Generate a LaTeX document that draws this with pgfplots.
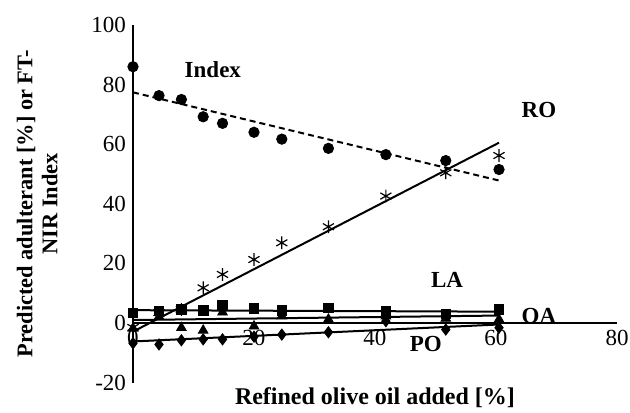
\documentclass[border=0pt]{standalone}
\usepackage{pgfplots}
\pgfplotsset{compat=1.18}
\usepackage{fontspec}
\setmainfont{Liberation Serif}
\begin{document}
\begin{tikzpicture}
\begin{axis}[
  x=3.025pt, y=1.49pt,
  xmin=0, xmax=80, ymin=-20, ymax=100,
  axis lines=middle,
  axis line style={-, line width=1pt},
  xtick={0,20,40,60,80},
  ytick={-20,0,20,40,60,80,100},
  hide obscured x ticks=false, hide obscured y ticks=false,
  major tick length=0pt,
  tick label style={font=\fontsize{11.5}{13}\selectfont},
  /pgf/number format/assume math mode=true,
  xlabel={Refined olive oil added [\%]},
  ylabel={Predicted adulterant [\%] or FT-\\NIR Index},
  every axis x label/.style={at={(axis description cs:0.5,0)}, anchor=north, yshift=1pt, font=\bfseries\fontsize{12}{14}\selectfont},
  every axis y label/.style={at={(axis description cs:-0.198,0.5)}, anchor=center, rotate=90, align=center, font=\bfseries\fontsize{11.2}{12.5}\selectfont},
  clip=false,
]
% Index
\addplot[only marks, mark=*, mark size=2.6pt, black] coordinates {
(0,86.0) (4.3,76.3) (8,75.0) (11.6,69.2) (14.8,67.0) (20,64.0) (24.6,61.7) (32.3,58.6) (41.8,56.5) (51.7,54.5) (60.5,51.5)};
\addplot[black, line width=1pt, dash pattern=on 3pt off 2pt] coordinates {(0,77.4) (60.5,47.8)};
% RO
\addplot[only marks, mark=asterisk, mark size=3.2pt, black, mark options={line width=0.6pt}] coordinates {
(0,-1.5) (4.3,3.5) (8,4.5) (11.6,11.8) (14.8,16.3) (20,21.3) (24.6,26.9) (32.3,32.3) (41.8,42.6) (51.7,50.4) (60.5,56.2)};
\addplot[black, line width=1pt] coordinates {(0,-2.9) (60.5,60.5)};
% LA
\addplot[only marks, mark=square*, mark size=2.4pt, black] coordinates {
(0,3.4) (4.3,4.0) (8,4.5) (11.6,4.3) (14.8,6.1) (20,4.9) (24.6,4.3) (32.3,5.1) (41.8,4.0) (51.7,3.0) (60.5,4.5)};
\addplot[black, line width=1pt] coordinates {(0,4.3) (60.5,3.8)};
% OA
\addplot[only marks, mark=triangle*, mark size=2.8pt, black] coordinates {
(0,-1.8) (4.3,2.1) (8,-1.6) (11.6,-2.5) (14.8,3.6) (20,-1.1) (24.6,2.3) (32.3,1.2) (41.8,2.3) (51.7,1.5) (60.5,1.2)};
\addplot[black, line width=1pt] coordinates {(0,1.0) (60.5,2.5)};
% PO
\addplot[only marks, mark=diamond*, mark size=2.8pt, black] coordinates {
(0,-6.8) (4.3,-7.2) (8,-5.8) (11.6,-5.5) (14.8,-5.5) (20,-4.6) (24.6,-3.9) (32.3,-3.1) (41.8,0.6) (51.7,-2.2) (60.5,-1.6)};
\addplot[black, line width=1pt] coordinates {(0,-6.2) (60.5,-0.5)};
% labels
\node[font=\bfseries\fontsize{11.5}{13}\selectfont] at (axis cs:13.2,85) {Index};
\node[font=\bfseries\fontsize{11.5}{13}\selectfont] at (axis cs:67.1,71.6) {RO};
\node[font=\bfseries\fontsize{11.5}{13}\selectfont] at (axis cs:51.9,14.6) {LA};
\node[font=\bfseries\fontsize{11.5}{13}\selectfont] at (axis cs:67.1,2.2) {OA};
\node[font=\bfseries\fontsize{11.5}{13}\selectfont] at (axis cs:48.4,-7.2) {PO};
\end{axis}
\pgfresetboundingbox
\path ([xshift=-66.5pt,yshift=-15pt]current axis.south west) rectangle ([xshift=6.5pt,yshift=12.5pt]current axis.north east);
\end{tikzpicture}
\end{document}
